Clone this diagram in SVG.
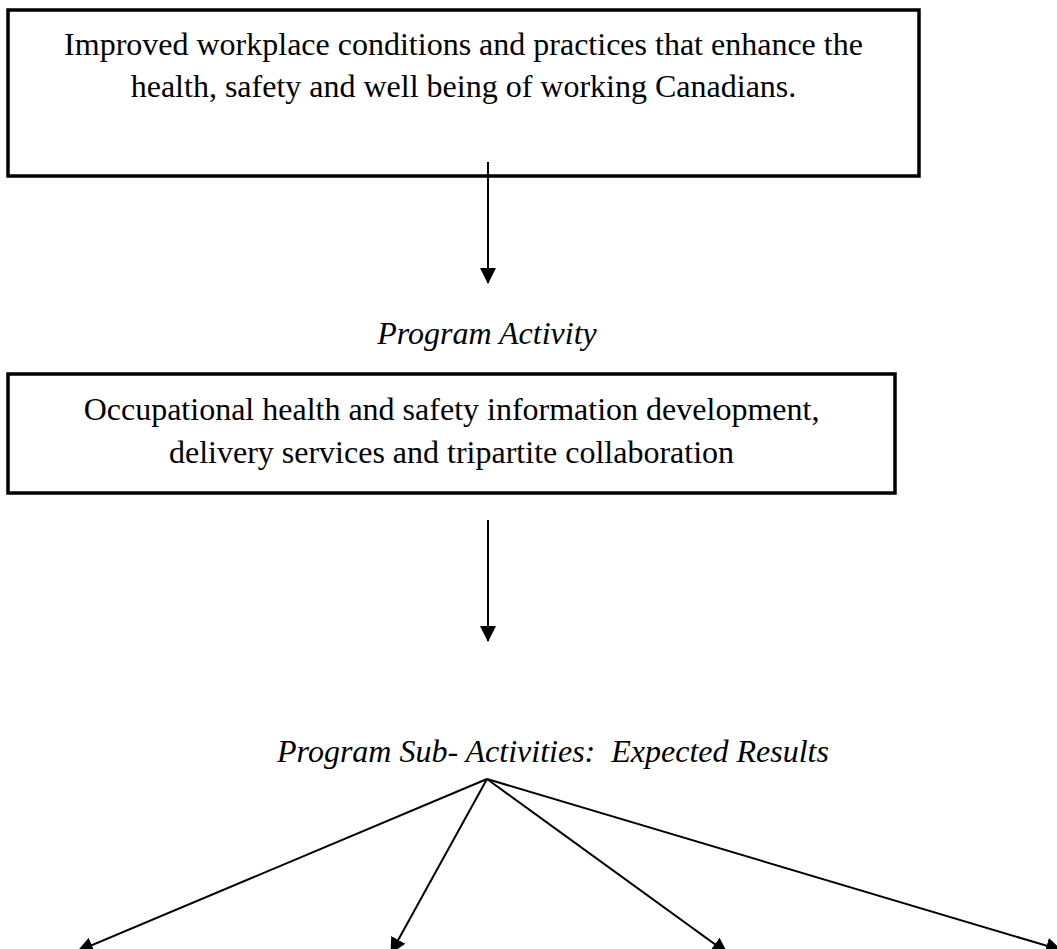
<svg xmlns="http://www.w3.org/2000/svg" width="1057" height="949" viewBox="0 0 1057 949">
<style>
.box{fill:#fff;stroke:#000;stroke-width:3.5}
.t{font-family:"Liberation Serif","Times New Roman",serif;font-size:32px;fill:#000;text-anchor:middle}
.i{font-style:italic}
.c{stroke:#000;stroke-width:2;fill:none}
</style>
<defs>
<marker id="ah" markerUnits="userSpaceOnUse" markerWidth="16" markerHeight="16" viewBox="0 0 16 16" refX="15" refY="8" orient="auto">
<path d="M0,0 L16,8 L0,16 Z" fill="#000"/>
</marker>
</defs>
<rect width="1057" height="949" fill="#fff"/>
<g id="outcome">
<rect class="box" x="8" y="10" width="911" height="166"/>
<text class="t" x="463.5" y="55">Improved workplace conditions and practices that enhance the</text>
<text class="t" x="463.5" y="97">health, safety and well being of working Canadians.</text>
</g>
<g id="program-activity-label">
<text class="t i" x="487" y="344">Program Activity</text>
</g>
<g id="program-activity">
<rect class="box" x="8" y="374" width="887" height="119"/>
<text class="t" x="451.5" y="420">Occupational health and safety information development,</text>
<text class="t" x="451.5" y="463">delivery services and tripartite collaboration</text>
</g>
<g id="sub-activities-label">
<text class="t i" x="553" y="762" xml:space="preserve" style="white-space:pre">Program Sub- Activities:  Expected Results</text>
</g>
<g id="connectors">
<line class="c" x1="488" y1="162" x2="488" y2="283" marker-end="url(#ah)"/>
<line class="c" x1="488" y1="520" x2="488" y2="641" marker-end="url(#ah)"/>
<line class="c" x1="487" y1="779" x2="78" y2="951" marker-end="url(#ah)"/>
<line class="c" x1="487" y1="779" x2="391" y2="953" marker-end="url(#ah)"/>
<line class="c" x1="487" y1="779" x2="727" y2="953" marker-end="url(#ah)"/>
<line class="c" x1="487" y1="779" x2="1061" y2="950" marker-end="url(#ah)"/>
</g>
</svg>
